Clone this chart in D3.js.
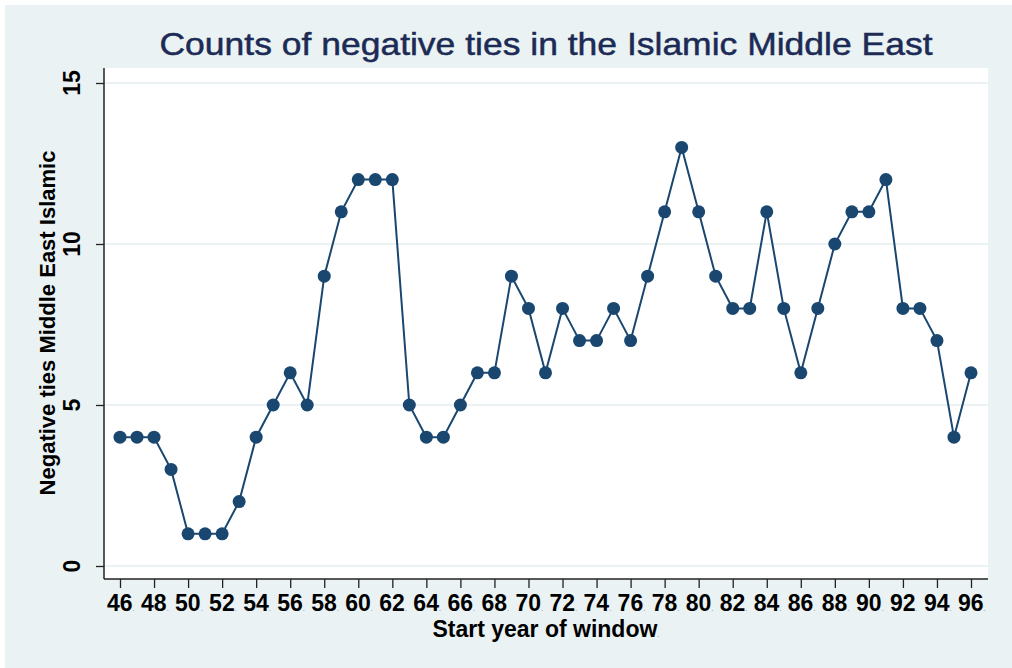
<!DOCTYPE html>
<html>
<head>
<meta charset="utf-8">
<script src="https://cdn.jsdelivr.net/npm/d3@7"></script>
<style>
  body { margin: 0; background: #fff; }
  svg { display: block; font-family: "Liberation Sans", Arial, sans-serif; }
</style>
</head>
<body>
<svg id="chart" width="1012" height="668"></svg>
<script>
// data
const years = [46,47,48,49,50,51,52,53,54,55,56,57,58,59,60,61,62,63,64,65,66,67,68,69,70,
  71,72,73,74,75,76,77,78,79,80,81,82,83,84,85,86,87,88,89,90,91,92,93,94,95,96];
const counts = [4,4,4,3,1,1,1,2,4,5,6,5,9,11,12,12,12,5,4,4,5,6,6,9,8,
  6,8,7,7,8,7,9,11,13,11,9,8,8,11,8,6,8,10,11,11,12,8,8,7,4,6];
const xTicks = d3.range(46, 97, 2);
const yTicks = [0, 5, 10, 15];

const navy = "#1a476f";
const bg = "#eaf2f3";

const svg = d3.select('#chart');

// outer background + plot region
svg.append('rect').attr('x', 5).attr('y', 5).attr('width', 1007).attr('height', 663).attr('fill', bg);
const plot = { left: 104, right: 988, top: 68, bottom: 579 };
svg.append('rect')
  .attr('x', plot.left).attr('y', plot.top)
  .attr('width', plot.right - plot.left).attr('height', plot.bottom - plot.top)
  .attr('fill', '#fff');

const x = d3.scaleLinear().domain([46, 96]).range([120, 971]);
const y = d3.scaleLinear().domain([0, 15]).range([566, 83]);

// grid
svg.append('g').selectAll('line').data(yTicks).join('line')
  .attr('x1', plot.left).attr('x2', plot.right)
  .attr('y1', d => y(d)).attr('y2', d => y(d))
  .attr('stroke', bg).attr('stroke-width', 2);

// y axis
const yAxis = svg.append('g').attr('transform', `translate(${plot.left},0)`)
  .call(d3.axisLeft(y).tickValues(yTicks).tickSize(8).tickSizeOuter(0).tickFormat(''));
yAxis.select('.domain').remove();
yAxis.selectAll('.tick line').attr('stroke', '#222').attr('stroke-width', 1.3);
svg.append('line').attr('x1', plot.left).attr('x2', plot.left)
  .attr('y1', plot.top).attr('y2', plot.bottom).attr('stroke', '#222').attr('stroke-width', 1.5);

svg.append('g').selectAll('text').data(yTicks).join('text')
  .attr('transform', d => `translate(80,${y(d)}) rotate(-90)`)
  .attr('text-anchor', 'middle')
  .attr('font-size', 23).attr('font-weight', 'bold').attr('fill', '#000')
  .text(d => d);

// x axis
const xAxis = svg.append('g').attr('transform', `translate(0,${plot.bottom})`)
  .call(d3.axisBottom(x).tickValues(xTicks).tickSize(9).tickSizeOuter(0).tickFormat(''));
xAxis.select('.domain').remove();
xAxis.selectAll('.tick line').attr('stroke', '#222').attr('stroke-width', 1.3);
svg.append('line').attr('x1', plot.left).attr('x2', plot.right)
  .attr('y1', plot.bottom).attr('y2', plot.bottom).attr('stroke', '#222').attr('stroke-width', 1.5);

const xl = svg.append('g').selectAll('text').data(xTicks).join('text')
  .attr('x', d => x(d) - 13).attr('y', 611)
  .attr('font-size', 23).attr('font-weight', 'bold').attr('fill', '#000');
xl.append('tspan').text(d => d);
xl.append('tspan').attr('font-size', 8).attr('fill', '#888').attr('font-weight', 'normal').text('.');

// axis titles
svg.append('text')
  .attr('x', 546).attr('y', 637).attr('text-anchor', 'middle')
  .attr('font-size', 23).attr('font-weight', 'bold')
  .text('Start year of window')
  .append('tspan').attr('font-size', 8).attr('fill', '#888').attr('font-weight', 'normal').text('.');

svg.append('text')
  .attr('transform', 'translate(55,323) rotate(-90)')
  .attr('text-anchor', 'middle')
  .attr('font-size', 22).attr('font-weight', 'bold')
  .text('Negative ties Middle East Islamic');

// title
svg.append('text')
  .attr('x', 546).attr('y', 55).attr('text-anchor', 'middle')
  .attr('font-size', 32).attr('fill', '#1c2b55')
  .attr('stroke', '#1c2b55').attr('stroke-width', 0.5)
  .attr('textLength', 773).attr('lengthAdjust', 'spacingAndGlyphs')
  .text('Counts of negative ties in the Islamic Middle East');

// series
const pts = years.map((yr, i) => ({ yr, v: counts[i] }));
svg.append('path').datum(pts)
  .attr('fill', 'none').attr('stroke', navy).attr('stroke-width', 2)
  .attr('d', d3.line().x(d => x(d.yr)).y(d => y(d.v)));
svg.append('g').selectAll('circle').data(pts).join('circle')
  .attr('cx', d => x(d.yr)).attr('cy', d => y(d.v)).attr('r', 6.5)
  .attr('fill', navy);
</script>
</body>
</html>
